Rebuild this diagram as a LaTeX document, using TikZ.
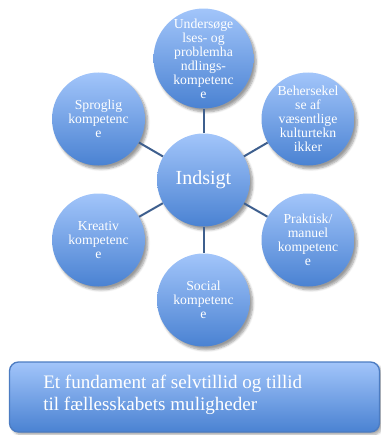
\documentclass[tikz,border=0pt]{standalone}
\usepackage{fontspec}
\setmainfont{Liberation Serif}
\usepackage{tikz}
\usetikzlibrary{shadows.blur}
\definecolor{kuglelys}{HTML}{A2C5FA}
\definecolor{kuglemork}{HTML}{4A82D2}
\definecolor{streg}{HTML}{3E5F8E}
\definecolor{kant}{HTML}{4C7CC2}

\begin{document}
\begin{tikzpicture}[x=0.75pt,y=-0.75pt,
    kugle/.style={circle,minimum size=69.75pt,inner sep=0pt,align=center,
      top color=kuglelys,bottom color=kuglemork,text=white,
      font=\fontsize{10.3}{10.5}\selectfont,
      blur shadow={shadow xshift=2pt,shadow yshift=-2.5pt,shadow blur steps=6,shadow opacity=40}},
    forbind/.style={draw=streg,line width=1.5pt}]
      \useasboundingbox (0,0) rectangle (381,435);
      \node[kugle] (ind) at (203.5,180) {\fontsize{15}{16}\selectfont Indsigt};
      \node[kugle] (und) at (203.5,58.5) {Undersøge\\lses- og\\problemha\\ndlings-\\kompetenc\\e};
      \node[kugle] (beh) at (308,119) {Behersekel\\se af\\væsentlige\\kulturtekn\\ikker};
      \node[kugle] (pra) at (308,240) {Praktisk/\\manuel\\kompetenc\\e};
      \node[kugle] (soc) at (203.5,300) {Social\\kompetenc\\e};
      \node[kugle] (kre) at (98.5,240) {Kreativ\\kompetenc\\e};
      \node[kugle] (spr) at (98.5,119) {Sproglig\\kompetenc\\e};
      % streger fra midten ud til hver kugle
      \foreach \k in {und,beh,pra,soc,kre,spr}
        \draw[forbind] (ind) -- (\k);
      % bundfeltet
      \draw[draw=kant,line width=1pt,rounded corners=6.75pt,top color=kuglelys,bottom color=kuglemork,
        blur shadow={shadow xshift=2pt,shadow yshift=-2pt,shadow blur steps=6,shadow opacity=35}]
        (9.5,362) rectangle (379.5,432);
      \node[anchor=west,align=left,inner sep=0pt,text=white,font=\fontsize{14.3}{16.5}\selectfont] (fund) at (43,395)
        {Et fundament af selvtillid og tillid\\til fællesskabets muligheder};
    \end{tikzpicture}
\end{document}
